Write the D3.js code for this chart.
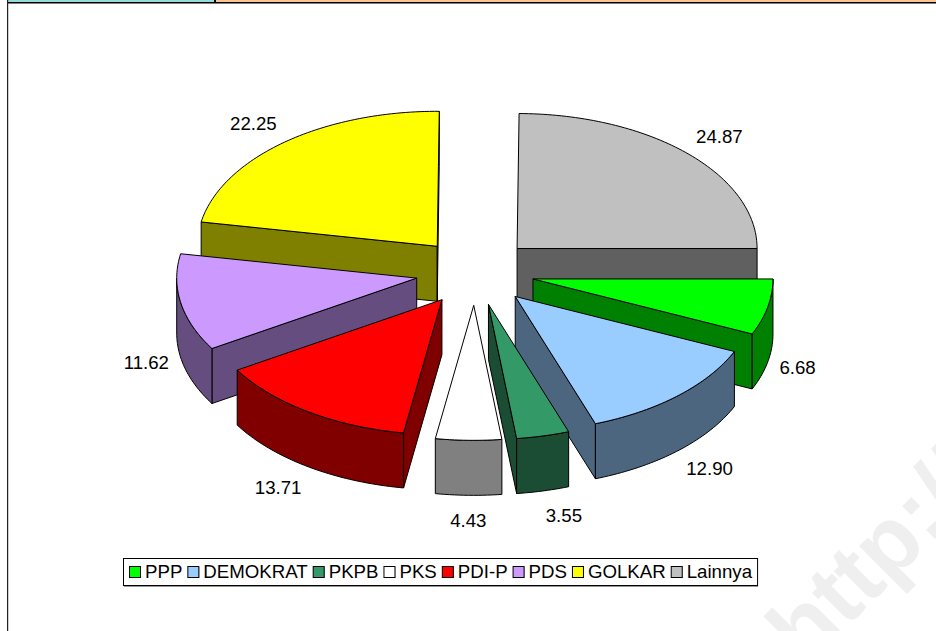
<!DOCTYPE html>
<html><head><meta charset="utf-8">
<script src="https://cdnjs.cloudflare.com/ajax/libs/d3/7.8.5/d3.min.js"></script>
<style>html,body{margin:0;padding:0;background:#fff}svg{display:block}text{font-family:"Liberation Sans",Arial,sans-serif}</style>
</head><body><script>
const parties = ["PPP","DEMOKRAT","PKPB","PKS","PDI-P","PDS","GOLKAR","Lainnya"];
const shares = [6.68,12.90,3.55,4.43,13.71,11.62,22.25,24.87];
const labels = ["6.68","12.90","3.55","4.43","13.71","11.62","22.25","24.87"];
const topColors = ["#00ff00","#99ccff","#339966","#ffffff","#ff0000","#cc99ff","#ffff00","#c0c0c0"];
const paintOrder = ["Lainnya","GOLKAR","PPP","PDS","DEMOKRAT","PDI-P","PKPB","PKS"];

const W=936,H=631,cx=475,cy=272,rx=240,ry=135,depth=55,explode=0.247,fs=18.67;
const svg=d3.select("body").append("svg").attr("width",W).attr("height",H);

// page furniture
const wm=svg.append("text").attr("transform","translate(806,668) rotate(-45)")
  .attr("font-size",92).attr("font-weight","bold").attr("fill","#efefef").text("http://m");
svg.append("rect").attr("x",8).attr("y",0).attr("width",206).attr("height",2).attr("fill","#93dcdc");
svg.append("rect").attr("x",216).attr("y",0).attr("width",720).attr("height",2).attr("fill","#ffc68c");
svg.append("rect").attr("x",7).attr("y",2).attr("width",929).attr("height",1.5).attr("fill","#000");
svg.append("rect").attr("x",214).attr("y",0).attr("width",2).attr("height",3).attr("fill","#000");
svg.append("rect").attr("x",7).attr("y",0).attr("width",1.2).attr("height",H).attr("fill","#222");

// projection of the tilted pie
const X=d3.scaleLinear().domain([-1,1]).range([cx-rx,cx+rx]);
const Y=d3.scaleLinear().domain([-1,1]).range([cy-ry,cy+ry]);
const pie=d3.pie().sort(null).startAngle(Math.PI/2).endAngle(Math.PI*2.5).value(d=>d.v);
const arcs=pie(parties.map((n,i)=>({n,v:shares[i],c:topColors[i],l:labels[i]})));
const line=d3.line();
const half=c=>{const r=d3.rgb(c);return d3.rgb(r.r/2,r.g/2,r.b/2).formatHex();};
const sweep=(a,b)=>{const n=Math.max(2,Math.ceil((b-a)/0.02));return d3.range(n+1).map(i=>a+(b-a)*i/n);};

arcs.forEach(d=>{
  d.mid=(d.startAngle+d.endAngle)/2;
  d.ox=explode*Math.sin(d.mid); d.oy=-explode*Math.cos(d.mid);
  d.pt=(t,r=1,z=0)=>[X(d.ox+r*Math.sin(t)),Y(d.oy-r*Math.cos(t))+z];
  d.apex=d.pt(0,0);
});

const g=svg.append("g").attr("stroke","#000").attr("stroke-width",1).attr("stroke-linejoin","round");
paintOrder.map(n=>arcs.find(a=>a.data.n===n)).forEach(d=>{
  const s=d.startAngle,e=d.endAngle,dark=half(d.data.c);
  const wall=pts=>g.append("path").attr("d",line(pts)+"Z").attr("fill",dark);
  if(Math.cos(s-Math.PI/2)<0) wall([d.apex,d.pt(s),d.pt(s,1,depth),d.pt(0,0,depth)]);
  if(Math.cos(e+Math.PI/2)<0) wall([d.apex,d.pt(e),d.pt(e,1,depth),d.pt(0,0,depth)]);
  const a0=Math.max(s,Math.PI/2),a1=Math.min(e,Math.PI*1.5);
  if(a1>a0){const ts=sweep(a0,a1);
    wall(ts.map(t=>d.pt(t)).concat(ts.slice().reverse().map(t=>d.pt(t,1,depth))));}
  g.append("path").attr("d",line([d.apex].concat(sweep(s,e).map(t=>d.pt(t))))+"Z").attr("fill",d.data.c);
});

// value labels
svg.append("g").selectAll("text").data(arcs).join("text")
  .attr("font-size",fs).attr("fill","#000").attr("dy",".35em")
  .each(function(d){
    const s=Math.sin(d.mid),c=Math.cos(d.mid),front=c<0;
    const x=d.apex[0]+1.05*rx*s;
    const y=d.apex[1]-1.05*ry*c+(front?depth:0)-18*c;
    d3.select(this).attr("x",x).attr("y",y)
      .attr("text-anchor",Math.abs(s)<0.1?"middle":(s>0?"start":"end"));
  }).text(d=>d.data.l);

// legend
const lg=svg.append("g");
const box=lg.append("rect").attr("fill","#fff").attr("stroke","#000").attr("stroke-width",1);
let lx=129;const ly=571.5,sw=11;
arcs.forEach(d=>{
  lg.append("rect").attr("x",lx+1).attr("y",ly-sw/2+1).attr("width",sw).attr("height",sw).attr("fill","#a0a0a0");
  lg.append("rect").attr("x",lx+.5).attr("y",ly-sw/2+.5).attr("width",sw).attr("height",sw).attr("fill",d.data.c).attr("stroke","#000");
  const t=lg.append("text").attr("x",lx+sw+5).attr("y",ly).attr("dy",".35em").attr("font-size",fs).text(d.data.n);
  lx+=sw+5+t.node().getComputedTextLength()+5;
});
box.attr("x",123.5).attr("y",558.5).attr("width",lx-123).attr("height",27);
svg.append("rect").attr("x",124).attr("y",586).attr("width",lx-123).attr("height",1).attr("fill","#999");
</script></body></html>
